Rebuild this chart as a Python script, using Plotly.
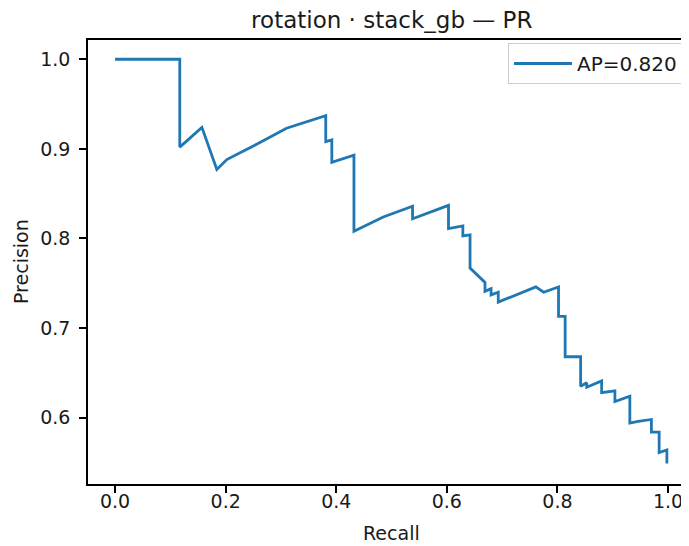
import plotly.graph_objects as go

recall = [0.0, 0.117, 0.117, 0.157, 0.184, 0.202, 0.262, 0.310, 0.381, 0.381,
          0.392, 0.392, 0.432, 0.432, 0.485, 0.538, 0.538, 0.603, 0.603, 0.629,
          0.629, 0.642, 0.642, 0.669, 0.669, 0.680, 0.680, 0.693, 0.693, 0.761,
          0.775, 0.802, 0.802, 0.814, 0.814, 0.842, 0.842, 0.853, 0.853, 0.880,
          0.880, 0.904, 0.904, 0.931, 0.931, 0.946, 0.970, 0.970, 0.984, 0.984,
          0.998, 0.998]
precision = [1.0, 1.0, 0.902, 0.924, 0.877, 0.888, 0.907, 0.923, 0.937, 0.908,
             0.910, 0.885, 0.893, 0.808, 0.824, 0.836, 0.822, 0.837, 0.811, 0.814,
             0.803, 0.804, 0.767, 0.751, 0.741, 0.744, 0.737, 0.740, 0.729, 0.746,
             0.740, 0.746, 0.713, 0.713, 0.668, 0.668, 0.635, 0.639, 0.634, 0.641,
             0.628, 0.630, 0.618, 0.624, 0.594, 0.596, 0.598, 0.584, 0.584, 0.561,
             0.564, 0.549]
ap_label = "AP=0.820"
title_text = "rotation · stack_gb — PR"
x_ticks = [0.0, 0.2, 0.4, 0.6, 0.8, 1.0]
y_ticks = [0.6, 0.7, 0.8, 0.9, 1.0]

FONT = "DejaVu Sans"
TXT = "#1a1a1a"

# page body has an 8px margin: the figure is sized so the plot area lands
# at x 88..689, y 40..484 in the 689x546 window
W, H = 681, 538
L, T, B, R = 80, 32, 62, 0
PW, PH = W - L - R, H - T - B

fig = go.Figure()
fig.add_trace(go.Scatter(
    x=recall, y=precision, mode="lines", name=ap_label,
    line=dict(color="#1f77b4", width=2.8),
))

axis_common = dict(
    showline=True, linecolor="black", linewidth=1.5,
    ticks="outside", ticklen=7, tickwidth=1.5, tickcolor="black",
    showgrid=False, zeroline=False,
    tickfont=dict(family=FONT, size=19, color=TXT),
    tickformat=".1f",
)

fig.update_layout(
    width=W, height=H,
    margin=dict(l=L, r=R, t=T, b=B, autoexpand=False),
    paper_bgcolor="white", plot_bgcolor="white",
    showlegend=True,
    xaxis=dict(range=[-0.049, 1.038], tickvals=x_ticks, mirror=True,
               ticklabelstandoff=-8, **axis_common),
    yaxis=dict(range=[0.526, 1.0215], tickvals=y_ticks, mirror=False,
               ticklabelstandoff=5, **axis_common),
    title=dict(text=title_text, x=(391.8 - 88) / PW, xref="paper", xanchor="center",
               y=1, yref="paper", yanchor="bottom", pad=dict(b=12),
               font=dict(family=FONT, size=23, color=TXT)),
    legend=dict(x=(683 - 88) / PW, xanchor="right", y=1 - 3 / PH, yanchor="top",
                bordercolor="#cccccc", borderwidth=1, bgcolor="white",
                itemwidth=58,
                font=dict(family=FONT, size=20, color=TXT)),
)
fig.add_annotation(text="Recall", x=(391.8 - 88) / PW, xref="paper",
                   y=-(533 - 484) / PH, yref="paper", xanchor="center",
                   yanchor="middle", showarrow=False,
                   font=dict(family=FONT, size=19, color=TXT))
fig.add_annotation(text="Precision", x=-(88 - 21) / PW, xref="paper", y=0.5,
                   yref="paper", xanchor="center", yanchor="middle", showarrow=False,
                   textangle=-90, font=dict(family=FONT, size=19, color=TXT))

fig.write_html("out.html")
